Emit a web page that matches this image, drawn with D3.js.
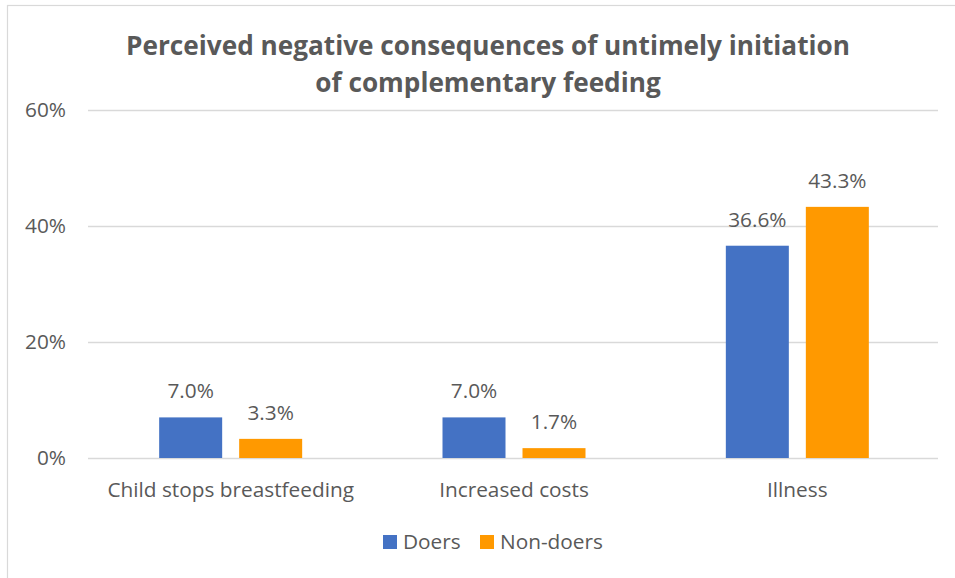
<!DOCTYPE html>
<html>
<head>
<meta charset="utf-8">
<script src="https://cdn.jsdelivr.net/npm/d3@7"></script>
<style>
  html, body { margin: 0; padding: 0; background: #ffffff; }
  svg { display: block; font-family: "Open Sans", "Noto Sans", sans-serif; }
</style>
</head>
<body>
<svg id="chart" width="955" height="578"></svg>
<script>
// Chart data
const categories = ["Child stops breastfeeding", "Increased costs", "Illness"];
const seriesNames = ["Doers", "Non-doers"];
const doers = [0.070, 0.070, 0.366];
const nonDoers = [0.033, 0.017, 0.433];
const yTicks = [0, 0.2, 0.4, 0.6];
const titleLines = ["Perceived negative consequences of untimely initiation", "of complementary feeding"];

const colors = { "Doers": "#4472C4", "Non-doers": "#FF9900" };
const textColor = "#595959";
const gridColor = "#D9D9D9";
const fontFamily = "'Open Sans', 'Noto Sans', sans-serif";
const labelSize = 20.8;

const svg = d3.select("#chart");

// Outer frame of the chart area
svg.append("rect")
  .attr("x", 7.5).attr("y", 5.5)
  .attr("width", 1000).attr("height", 700)
  .attr("fill", "#fff")
  .attr("stroke", gridColor).attr("stroke-width", 1.2);

const plot = { left: 88, right: 938, top: 110, bottom: 458 };

const x0 = d3.scaleBand().domain(categories).range([plot.left + 1, plot.right + 1]).paddingInner(0).paddingOuter(0);
const x1 = d3.scaleBand().domain(seriesNames).range([-71.5, 71.5]).paddingInner(0.2125).paddingOuter(0);
const y = d3.scaleLinear().domain([0, 0.6]).range([plot.bottom, plot.top]);

// Title
svg.append("text")
  .attr("x", 488).attr("y", 55)
  .attr("text-anchor", "middle")
  .attr("fill", textColor)
  .attr("font-size", 26.2)
  .attr("font-weight", "bold")
  .selectAll("tspan")
  .data(titleLines)
  .join("tspan")
  .attr("x", 488)
  .attr("dy", (d, i) => i === 0 ? 0 : 37)
  .text(d => d);

// Y axis with gridlines
const yAxis = svg.append("g")
  .attr("transform", `translate(${plot.left},0)`)
  .call(d3.axisLeft(y)
    .tickValues(yTicks)
    .tickFormat(d3.format(".0%"))
    .tickSize(-(plot.right - plot.left))
    .tickPadding(22));
yAxis.select(".domain").remove();
yAxis.selectAll(".tick line").attr("stroke", gridColor).attr("stroke-width", 1.3);
yAxis.selectAll(".tick text")
  .attr("fill", textColor)
  .attr("font-size", labelSize)
  .attr("font-family", fontFamily);

// Category axis
const xAxis = svg.append("g")
  .attr("transform", `translate(0,${plot.bottom})`)
  .call(d3.axisBottom(x0).tickSize(0).tickPadding(0));
xAxis.select(".domain").remove();
xAxis.selectAll(".tick text")
  .attr("y", 39).attr("dy", 0)
  .attr("fill", textColor)
  .attr("font-size", labelSize)
  .attr("font-family", fontFamily);

// Bars
const rows = categories.map((c, i) => ({
  category: c,
  values: [
    { series: "Doers", value: doers[i] },
    { series: "Non-doers", value: nonDoers[i] }
  ]
}));

const groups = svg.append("g").selectAll("g")
  .data(rows)
  .join("g")
  .attr("transform", d => `translate(${x0(d.category) + x0.bandwidth() / 2},0)`);

groups.selectAll("rect")
  .data(d => d.values)
  .join("rect")
  .attr("x", d => x1(d.series))
  .attr("width", x1.bandwidth())
  .attr("y", d => y(d.value))
  .attr("height", d => y(0) - y(d.value))
  .attr("fill", d => colors[d.series]);

// Value labels
groups.selectAll("text.value")
  .data(d => d.values)
  .join("text")
  .attr("class", "value")
  .attr("x", d => x1(d.series) + x1.bandwidth() / 2)
  .attr("y", d => y(d.value) - 19)
  .attr("text-anchor", "middle")
  .attr("fill", textColor)
  .attr("font-size", labelSize)
  .text(d => d3.format(".1%")(d.value));

// Legend
const legendX = [383, 480];
const legend = svg.append("g").selectAll("g")
  .data(seriesNames)
  .join("g")
  .attr("transform", (d, i) => `translate(${legendX[i]},535)`);
legend.append("rect")
  .attr("width", 14).attr("height", 14)
  .attr("fill", d => colors[d]);
legend.append("text")
  .attr("x", 20).attr("y", 13.5)
  .attr("fill", textColor)
  .attr("font-size", labelSize)
  .text(d => d);
</script>
</body>
</html>
